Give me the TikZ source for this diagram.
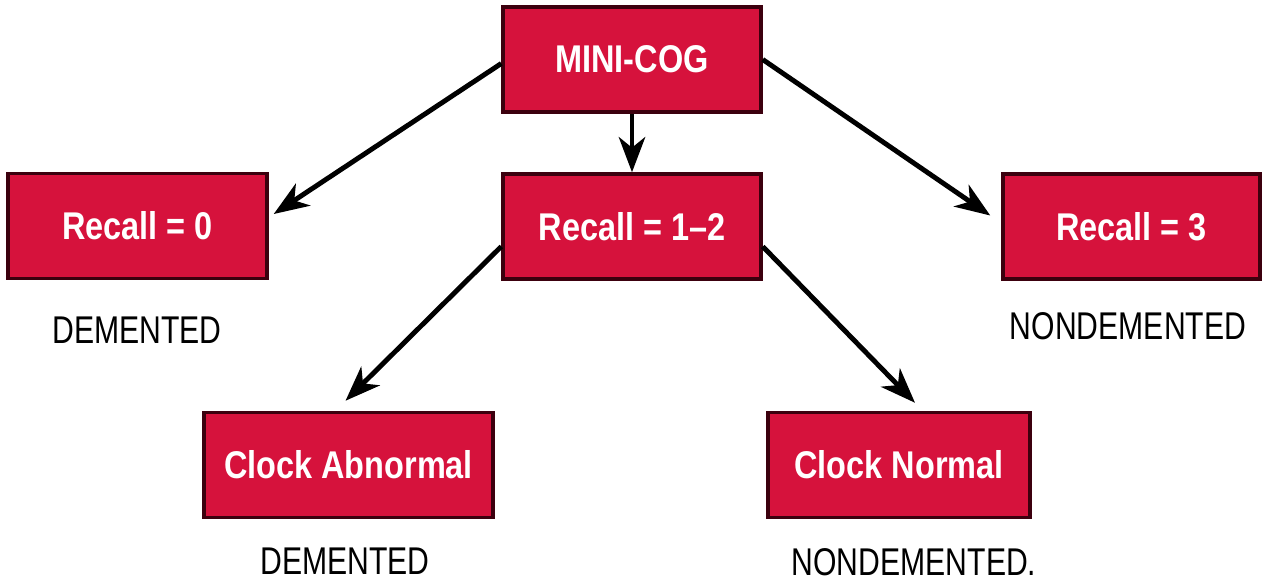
\documentclass[tikz,border=0pt]{standalone}
\usepackage{fontspec}
\setmainfont{Liberation Sans}
\newfontfamily\boxfont[FakeStretch=0.84]{Liberation Sans}
\newfontfamily\labelfont[FakeStretch=0.78]{Liberation Sans}
\usetikzlibrary{arrows.meta}
\definecolor{cogred}{RGB}{214,18,60}
\definecolor{cogedge}{RGB}{60,0,14}

\tikzset{
  testbox/.style={draw=cogedge, line width=2pt, fill=cogred, text=white,
    minimum width=5.16cm, minimum height=2.1cm, inner sep=0pt,
    font=\boxfont\bfseries\fontsize{22}{24}\selectfont},
  result/.style={font=\labelfont\fontsize{22}{24}\selectfont, inner sep=0pt},
  link/.style={-{Stealth[length=20pt,width=15pt,inset=6pt]}, line width=2.8pt}
}

\begin{document}
\begin{tikzpicture}[x=0.02cm, y=-0.02cm]
		\useasboundingbox (0,0) rectangle (1267,583);
		\node[testbox] (cog) at (632,59.5) {MINI-COG};
		\node[testbox] (mid) at (632,226.5) {Recall = 1–2};
		\node[testbox, minimum width=5.18cm] (zero) at (137.5,226) {Recall = 0};
		\node[testbox, minimum width=5.14cm] (three) at (1131.5,226.5) {Recall = 3};
		\node[testbox, minimum width=5.78cm] (abn) at (348.5,465) {Clock Abnormal};
		\node[testbox, minimum width=5.24cm] (nrm) at (899,465) {Clock Normal};
		\node[result] (dzero) at (137,330) {DEMENTED};
		\node[result] (nthree) at (1128,326) {NONDEMENTED};
		\node[result] (dabn) at (345,561) {DEMENTED};
		\node[result] (nnrm) at (914,562) {NONDEMENTED.};
		\draw[link] ([yshift=-0.08cm]cog.west) -- ([xshift=0.1cm,yshift=0.24cm]zero.east);
		\draw[link] (cog.south) -- (mid.north);
		\draw[link] (cog.east) -- ([xshift=-0.22cm,yshift=0.22cm]three.west);
		\draw[link] ([yshift=-0.4cm]mid.west) -- ([xshift=-0.06cm,yshift=0.2cm]abn.north);
		\draw[link] ([yshift=-0.4cm]mid.east) -- ([xshift=0.32cm,yshift=0.16cm]nrm.north);
	\end{tikzpicture}
\end{document}
